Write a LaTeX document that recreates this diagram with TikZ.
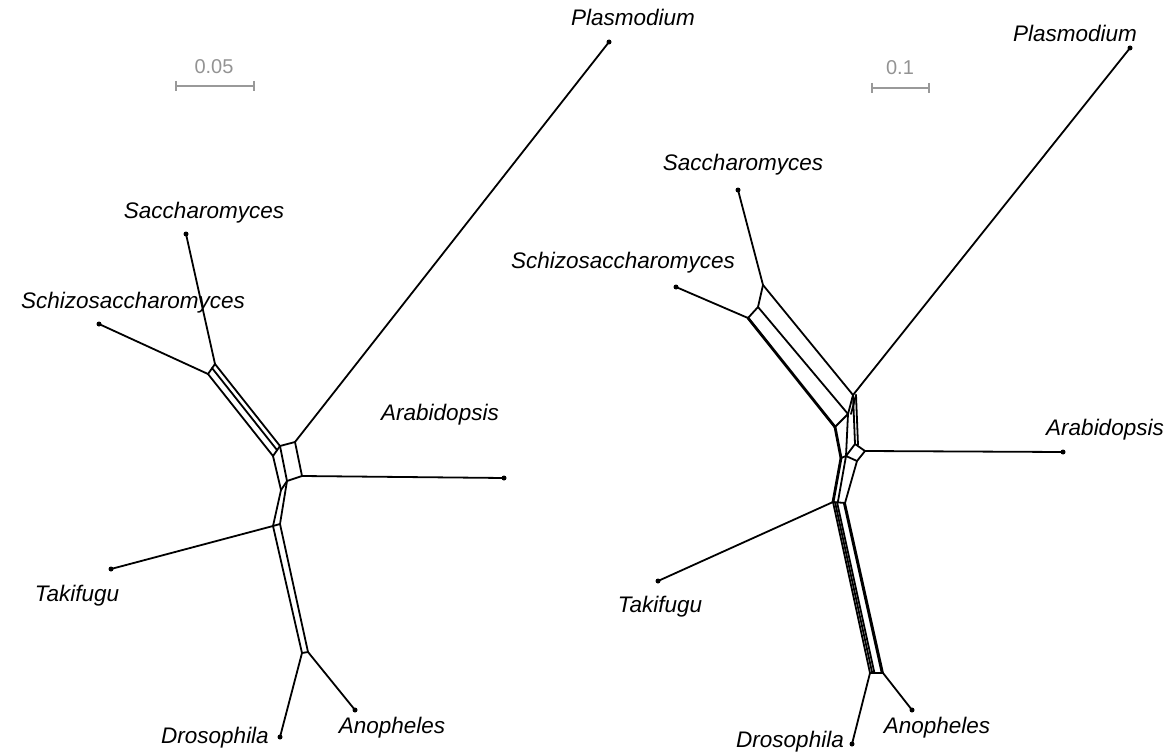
\documentclass[tikz,border=0pt]{standalone}
\usepackage{fontspec}
\setmainfont{Liberation Sans}
\usetikzlibrary{calc}
\begin{document}
\begin{tikzpicture}[x=1pt,y=-1pt,
  edge/.style={line width=1.8pt, line join=round, line cap=round},
  thickedge/.style={line width=2.8pt, line join=round, line cap=round},
  leaf/.style={circle, fill=black, inner sep=0pt, minimum size=5pt},
  taxon/.style={font=\fontsize{22.5}{26}\selectfont\itshape, inner sep=0pt},
  scaletext/.style={font=\fontsize{20}{24}\selectfont, text=gray!85, inner sep=0pt},
  scalebar/.style={draw=gray!80, line width=2pt}]
\useasboundingbox (0,0) rectangle (1166,754);

% ---------------- LEFT NETWORK ----------------
\node[leaf] (LP)  at (609,42) {};
\node[leaf] (LSa) at (186,234) {};
\node[leaf] (LSc) at (99,324) {};
\node[leaf] (LAr) at (504,478) {};
\node[leaf] (LTa) at (111,569) {};
\node[leaf] (LDr) at (280,737) {};
\node[leaf] (LAn) at (355,710) {};

\node[taxon] (tLP)  at (633,17)  {Plasmodium};
\node[taxon] (tLSa) at (204,213) {Saccharomyces};
\node[taxon] (tLSc) at (133,303) {Schizosaccharomyces};
\node[taxon] (tLAr) at (440,415) {Arabidopsis};
\node[taxon] (tLTa) at (77,596)  {Takifugu};
\node[taxon] (tLDr) at (215,738) {Drosophila};
\node[taxon] (tLAn) at (392,728) {Anopheles};

\coordinate (La1) at (215,364);
\coordinate (La2) at (208,374);
\coordinate (La3) at (212,368);
\coordinate (Lb1) at (280,446);
\coordinate (Lb2) at (273,456);
\coordinate (Lb3) at (277,450);
\coordinate (Lc1) at (295,442);
\coordinate (Ld1) at (302,476);
\coordinate (Le1) at (287,481);
\coordinate (Le2) at (281,490);
\coordinate (Lf1) at (280,524);
\coordinate (Lf2) at (273,526);
\coordinate (Lg1) at (308,652);
\coordinate (Lg2) at (302,653);

\draw[edge] (LSa.center) -- (La1);
\draw[edge] (LSc.center) -- (La2);
\draw[edge] (La1) -- (La2);
\draw[edge] (La1) -- (Lb1);
\draw[edge] (La3) -- (Lb3);
\draw[edge] (La2) -- (Lb2);
\draw[edge] (Lb1) -- (Lb2);
\draw[edge] (Lb1) -- (Lc1);
\draw[edge] (Lc1) -- (LP.center);
\draw[edge] (Lc1) -- (Ld1);
\draw[edge] (Ld1) -- (LAr.center);
\draw[edge] (Lb1) -- (Le1);
\draw[edge] (Lb2) -- (Le2);
\draw[edge] (Le1) -- (Ld1);
\draw[edge] (Le1) -- (Le2);
\draw[edge] (Le1) -- (Lf1);
\draw[edge] (Le2) -- (Lf2);
\draw[edge] (Lf1) -- (Lf2);
\draw[edge] (Lf2) -- (LTa.center);
\draw[edge] (Lf1) -- (Lg1);
\draw[edge] (Lf2) -- (Lg2);
\draw[edge] (Lg1) -- (Lg2);
\draw[edge] (Lg2) -- (LDr.center);
\draw[edge] (Lg1) -- (LAn.center);

% scale bar left
\coordinate (Lsb1) at (176,86);
\coordinate (Lsb2) at (254,86);
\draw[scalebar] (Lsb1) -- (Lsb2);
\draw[scalebar] ($(Lsb1)+(0,-5)$) -- ($(Lsb1)+(0,5)$);
\draw[scalebar] ($(Lsb2)+(0,-5)$) -- ($(Lsb2)+(0,5)$);
\node[scaletext] (Lsbt) at (214,67) {0.05};

% ---------------- RIGHT NETWORK ----------------
\node[leaf] (RP)  at (1130,48) {};
\node[leaf] (RSa) at (738,190) {};
\node[leaf] (RSc) at (676,287) {};
\node[leaf] (RAr) at (1063,452) {};
\node[leaf] (RTa) at (658,581) {};
\node[leaf] (RDr) at (852,744) {};
\node[leaf] (RAn) at (912,710) {};

\node[taxon] (tRP)  at (1075,33)  {Plasmodium};
\node[taxon] (tRSa) at (743,165)  {Saccharomyces};
\node[taxon] (tRSc) at (623,263)  {Schizosaccharomyces};
\node[taxon] (tRAr) at (1105,430) {Arabidopsis};
\node[taxon] (tRTa) at (660,607)  {Takifugu};
\node[taxon] (tRDr) at (790,742)  {Drosophila};
\node[taxon] (tRAn) at (937,728)  {Anopheles};

\coordinate (Rs1) at (763,285);
\coordinate (Rs2) at (758,307);
\coordinate (Rs3) at (748,318);
\coordinate (Rt1) at (853,395);
\coordinate (Rt2) at (848,414);
\coordinate (Rt3) at (835,427);
\coordinate (Ru1) at (855,444);
\coordinate (Ru2) at (865,451);
\coordinate (Ru3) at (857,461);
\coordinate (Ru4) at (846,456);
\coordinate (Rw3) at (841,458);
\coordinate (Rx1) at (833,502);
\coordinate (Rx2) at (845,503);
\coordinate (Ry1) at (870,673);
\coordinate (Ry2) at (883,673);

\draw[edge] (RSa.center) -- (Rs1);
\draw[edge] (RSc.center) -- (Rs3);
\draw[edge] (Rs1) -- (Rs2) -- (Rs3);
\draw[edge] (Rs1) -- (Rt1);
\draw[edge] (Rs2) -- (Rt2);
\draw[thickedge] (Rs3) -- (Rt3);
\draw[edge] (Rt3) -- (Rt2) -- (Rt1);
\draw[edge] ($(Rt2)+(3,0)$) -- ($(Rt1)+(3,0)$);
\draw[edge] (Rt1) -- (RP.center);
\draw[edge] (Rt1) -- (Ru1);
\draw[edge] ($(Rt1)+(3,0)$) -- ($(Ru1)+(3,1)$);
\draw[edge] (Rt2) -- (Ru4);
\draw[edge] (Ru1) -- (Ru2) -- (Ru3) -- (Ru4) -- cycle;
\draw[edge] (Ru2) -- (RAr.center);
\draw[thickedge] (Rt3) -- (Rw3);
\draw[edge] (Rw3) -- (Ru4);
\draw[thickedge] (Rw3) -- (Rx1);
\draw[edge] (Ru4) -- ($(Rx1)!0.4!(Rx2)$);
\draw[edge] (Ru3) -- (Rx2);
\draw[edge] (Rx1) -- (Rx2);
\draw[edge] (Rx1) -- (Ry1);
\foreach \f in {0.17,0.34,0.9} {
  \draw[edge] ($(Rx1)!\f!(Rx2)$) -- ($(Ry1)!\f!(Ry2)$);
}
\draw[edge] (Rx2) -- (Ry2);
\draw[edge] (Ry1) -- (Ry2);
\draw[edge] (Rx1) -- (RTa.center);
\draw[edge] (Ry1) -- (RDr.center);
\draw[edge] (Ry2) -- (RAn.center);

% scale bar right
\coordinate (Rsb1) at (872,88);
\coordinate (Rsb2) at (929,88);
\draw[scalebar] (Rsb1) -- (Rsb2);
\draw[scalebar] ($(Rsb1)+(0,-5)$) -- ($(Rsb1)+(0,5)$);
\draw[scalebar] ($(Rsb2)+(0,-5)$) -- ($(Rsb2)+(0,5)$);
\node[scaletext] (Rsbt) at (900,68) {0.1};
\end{tikzpicture}
\end{document}
